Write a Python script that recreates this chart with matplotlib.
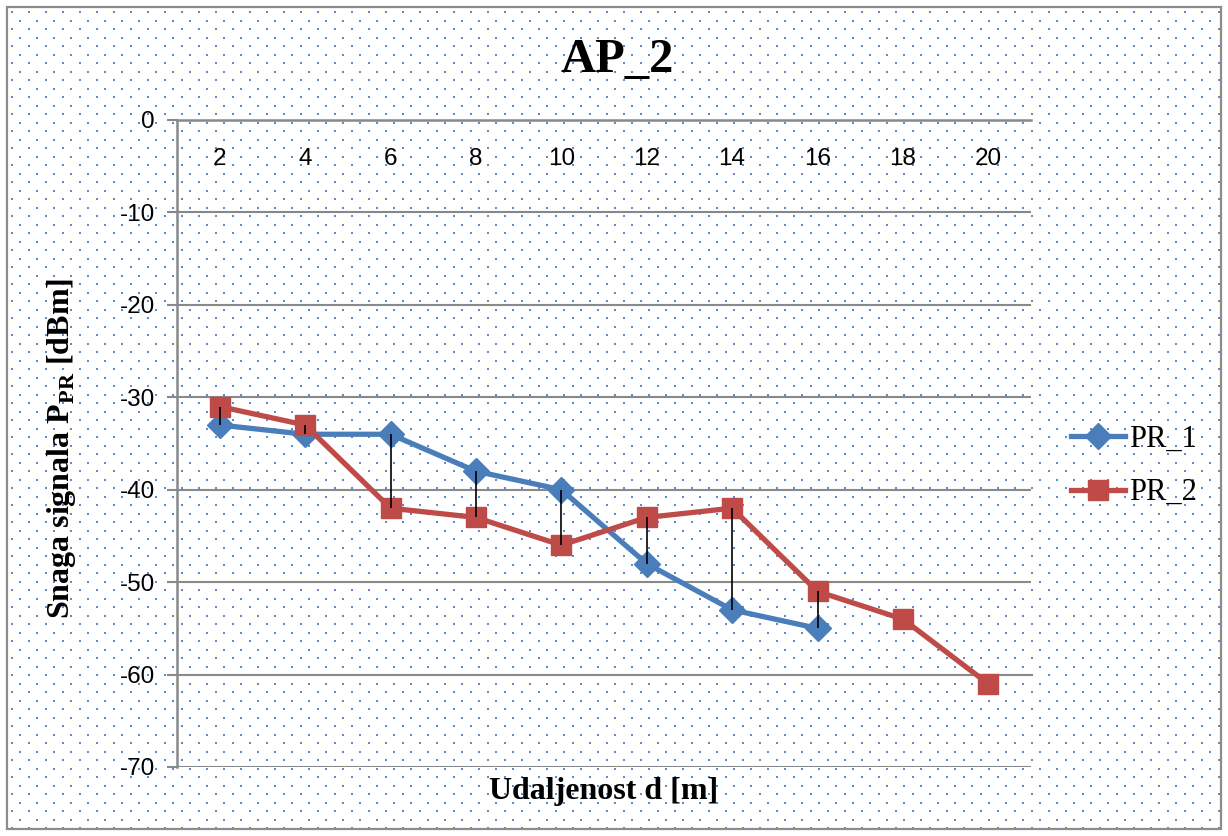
import matplotlib
matplotlib.use("Agg")
import matplotlib.pyplot as plt
import numpy as np
from matplotlib.patches import Rectangle

# chart data
distances = [2, 4, 6, 8, 10, 12, 14, 16, 18, 20]
pr_1 = [-33, -34, -34, -38, -40, -48, -53, -55, None, None]
pr_2 = [-31, -33, -42, -43, -46, -43, -42, -51, -54, -61]
y_ticks = [0, -10, -20, -30, -40, -50, -60, -70]

W, H = 1228, 836
BLUE = "#4A7EBB"
RED = "#BE4B48"
GRID = "#898989"

plt.rcParams["mathtext.fontset"] = "custom"
plt.rcParams["mathtext.rm"] = "Liberation Serif:bold"
plt.rcParams["mathtext.bf"] = "Liberation Serif:bold"

fig = plt.figure(figsize=(W / 100, H / 100), dpi=100)

# dotted background pattern over the whole chart area
bg = fig.add_axes([0, 0, 1, 1], zorder=0)
bg.set_xlim(0, W)
bg.set_ylim(H, 0)
bg.axis("off")
for row, y in enumerate(np.arange(12.3, H, 8.5)):
    x0 = 11.7 if row % 2 == 0 else 20.2
    xs = np.arange(x0, W - 8, 17.0)
    bg.scatter(xs, np.full_like(xs, y), s=1.6, marker="s", color="#5B8BD0",
               linewidths=0)
bg.add_patch(Rectangle((7, 7), W - 14, H - 14, fill=False, edgecolor="#8C8C8C",
                       linewidth=1.6))

ax = fig.add_axes([177 / W, 1 - 767 / H, 854 / W, 647 / H], zorder=1)
ax.patch.set_alpha(0)
x = np.arange(len(distances))
ax.set_xlim(-0.5, len(distances) - 0.5)
ax.set_ylim(-70, 0)

ax.set_yticks(y_ticks)
ax.set_yticklabels([str(v) for v in y_ticks], fontsize=17.5,
                   family="Liberation Sans")
ax.tick_params(axis="y", length=7, width=1.5, color=GRID, pad=9)
ax.set_xticks([])
ax.grid(axis="y", color=GRID, linewidth=1.5)
ax.set_axisbelow(True)
for side in ["right", "bottom"]:
    ax.spines[side].set_visible(False)
for side in ["left", "top"]:
    ax.spines[side].set_color(GRID)
    ax.spines[side].set_linewidth(1.8)

# category labels sit under the axis line at y = 0
for xi, d in zip(x, distances):
    ax.text(xi, 0.94, str(d), transform=ax.get_xaxis_transform(),
            ha="center", va="center", fontsize=17.5, family="Liberation Sans")

p1 = np.array([np.nan if v is None else v for v in pr_1], dtype=float)
p2 = np.array(pr_2, dtype=float)

ax.plot(x, p1, color=BLUE, linewidth=3.8, marker="D", markersize=13,
        label="PR_1", zorder=3)
ax.plot(x, p2, color=RED, linewidth=3.8, marker="s", markersize=14,
        label="PR_2", zorder=3)

# high-low lines between the two series
both = ~np.isnan(p1)
ax.vlines(x[both], np.minimum(p1, p2)[both], np.maximum(p1, p2)[both],
          color="black", linewidth=1.2, zorder=4)

fig.text(617 / W, 1 - 60 / H, "AP_2", ha="center", va="center", fontsize=35,
         fontweight="bold", family="Liberation Serif")
fig.text(604 / W, 1 - 792 / H, "Udaljenost d [m]", ha="center", va="center",
         fontsize=23, fontweight="bold", family="Liberation Serif")
fig.text(62 / W, 1 - 448 / H, r"Snaga signala P$_{\mathregular{PR}}$ [dBm]",
         ha="center", va="center", rotation=90, fontsize=23,
         fontweight="bold", family="Liberation Serif")

fig.legend(loc="center left", bbox_to_anchor=(1050 / W, 1 - 466 / H),
           frameon=False, prop={"family": "Liberation Serif", "size": 22},
           handlelength=1.75, handletextpad=0.15, labelspacing=0.8,
           borderpad=0.2)

fig.savefig("out.png", dpi=100)
